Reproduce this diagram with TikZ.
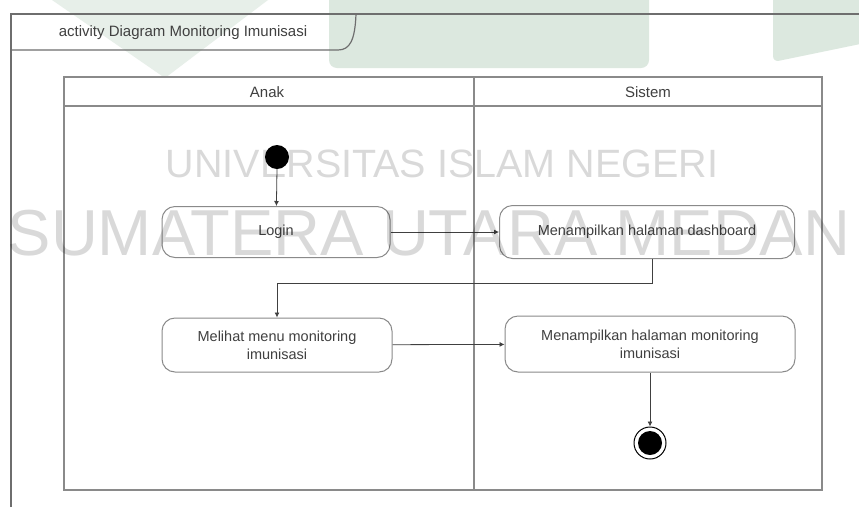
\documentclass[tikz,border=0pt]{standalone}
\usepackage{fontspec}
\setmainfont{Liberation Sans}
\usetikzlibrary{arrows.meta}
\definecolor{edge}{HTML}{8A8A8A}
\definecolor{frameline}{HTML}{6E6E6E}
\definecolor{wmgreen}{HTML}{DCE8DF}
\tikzset{
  act/.style={draw=edge, line width=1pt, rounded corners=13pt, fill=white,
    minimum height=#1, align=center, font=\fontsize{14.5}{18}\selectfont, inner sep=2pt,
    text=black!75},
  flow/.style={draw=black!75, line width=0.8pt, -{Latex[length=5pt,width=5pt]}},
  lane/.style={draw=edge, line width=1.3pt},
  lanelabel/.style={font=\fontsize{15}{18}\selectfont, text=black!75},
  imprint/.style={text=black, opacity=0.15},
}
\begin{document}
\begin{tikzpicture}[x=1pt,y=-1pt]
\useasboundingbox (0,0) rectangle (859,507);
\fill[white] (0,0) rectangle (859,507);

% faint background marks
\fill[wmgreen!70] (52,0) -- (268,0) -- (165,78) -- cycle;
\fill[wmgreen, rounded corners=8pt] (329,-10) -- (649,-10) -- (649,68) -- (329,68) -- cycle;
\fill[wmgreen, rounded corners=6pt] (773,-10) -- (870,-10) -- (870,42) -- (773,62) -- cycle;

% diagram frame with title tab
\draw[frameline, line width=1.6pt] (11,507) -- (11,14) -- (859,14);
\draw[frameline, line width=1.2pt] (11,50) -- (338,50) .. controls (350,50) and (355,40) .. (356,14);
\node[font=\fontsize{15}{18}\selectfont, text=black!75] (title) at (183,33) {activity Diagram Monitoring Imunisasi};

% swimlanes
\draw[lane] (64,77) rectangle (822,490);
\draw[lane] (64,106) -- (822,106);
\draw[lane] (474,77) -- (474,490);
\node[lanelabel] (laneA) at (267,92) {Anak};
\node[lanelabel] (laneB) at (648,92) {Sistem};

% activities
\fill[black] (277,157) circle (12);
\coordinate (start) at (277,169);
\node[act=51pt, minimum width=228pt] (login) at (276,232) {Login};
\node[act=53pt, minimum width=295pt] (dash) at (647,232) {Menampilkan halaman dashboard};
\node[act=54pt, minimum width=230pt] (menu) at (277,345) {Melihat menu monitoring\\imunisasi};
\node[act=56pt, minimum width=290pt] (mon) at (650,344) {Menampilkan halaman monitoring\\imunisasi};
\node[circle, draw=black, line width=1pt, fill=white, minimum size=32pt, inner sep=0pt] (stop) at (650,443) {};
\fill[black] (stop.center) circle (12);

% control flows
\draw[flow] (start) -- (login);
\draw[flow] (login) -- (dash);
\draw[flow] (dash.south) ++(5,0) coordinate (d1) -- (d1 |- 0,283) -| (menu.north);
\draw[flow] (menu) -- (mon);
\draw[flow] (mon) -- (stop);

% institution imprint laid over the page
\node[imprint, font=\fontsize{39.5}{44}\selectfont] (wm1) at (442,164) {UNIVERSITAS ISLAM NEGERI};
\node[imprint, font=\fontsize{65}{70}\selectfont] (wm2) at (429,233) {SUMATERA UTARA MEDAN};
\end{tikzpicture}
\end{document}
